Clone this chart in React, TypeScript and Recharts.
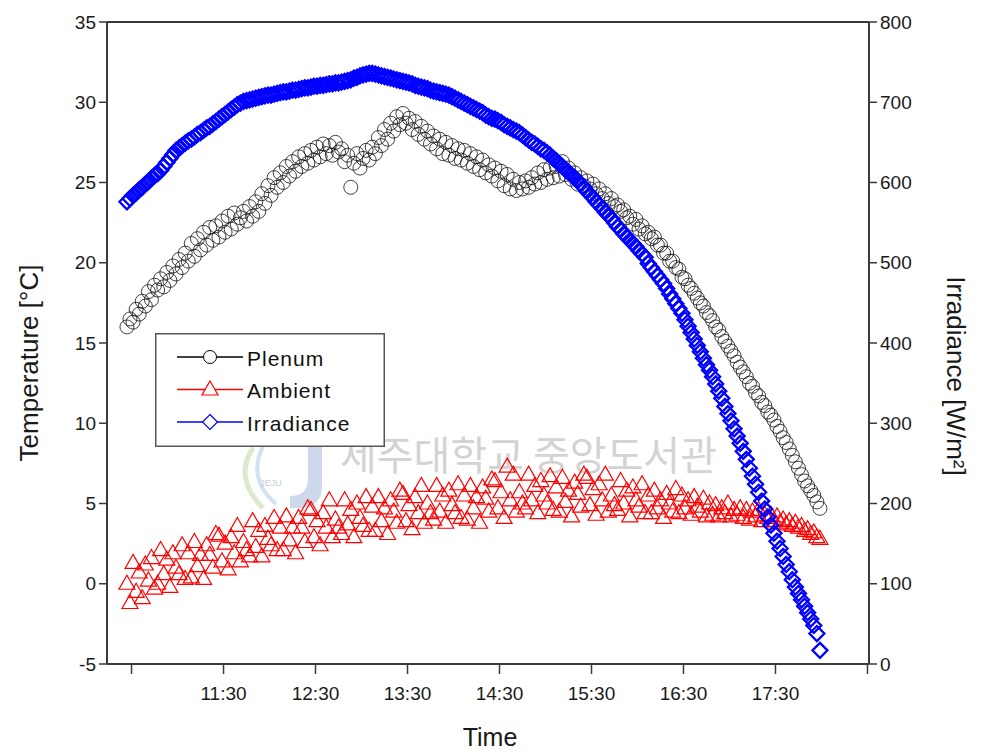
import React from 'react';
import { ComposedChart, Line, XAxis, YAxis, ReferenceLine, Legend, Customized } from 'recharts';

const FONT = 'Arial, "Liberation Sans", Helvetica, sans-serif';

// time of day in minutes since midnight (2-minute samples)
const TIMES = [
  627, 629, 631, 633, 635, 637, 639, 641, 643, 645,
  647, 649, 651, 653, 655, 657, 659, 661, 663, 665,
  667, 669, 671, 673, 675, 677, 679, 681, 683, 685,
  687, 689, 691, 693, 695, 697, 699, 701, 703, 705,
  707, 709, 711, 713, 715, 717, 719, 721, 723, 725,
  727, 729, 731, 733, 735, 737, 739, 741, 743, 745,
  747, 749, 751, 753, 755, 757, 759, 761, 763, 765,
  767, 769, 771, 773, 775, 777, 779, 781, 783, 785,
  787, 789, 791, 793, 795, 797, 799, 801, 803, 805,
  807, 809, 811, 813, 815, 817, 819, 821, 823, 825,
  827, 829, 831, 833, 835, 837, 839, 841, 843, 845,
  847, 849, 851, 853, 855, 857, 859, 861, 863, 865,
  867, 869, 871, 873, 875, 877, 879, 881, 883, 885,
  887, 889, 891, 893, 895, 897, 899, 901, 903, 905,
  907, 909, 911, 913, 915, 917, 919, 921, 923, 925,
  927, 929, 931, 933, 935, 937, 939, 941, 943, 945,
  947, 949, 951, 953, 955, 957, 959, 961, 963, 965,
  967, 969, 971, 973, 975, 977, 979, 981, 983, 985,
  987, 989, 991, 993, 995, 997, 999, 1001, 1003, 1005,
  1007, 1009, 1011, 1013, 1015, 1017, 1019, 1021, 1023, 1025,
  1027, 1029, 1031, 1033, 1035, 1037, 1039, 1041, 1043, 1045,
  1047, 1049, 1051, 1053, 1055, 1057, 1059, 1061, 1063, 1065,
  1067, 1069, 1071, 1073, 1075, 1077, 1079,
];

const PLENUM = [
  16.0, 16.5, 16.3, 17.1, 16.8, 17.6, 17.3, 18.2, 17.7, 18.6,
  18.3, 19.0, 18.5, 19.4, 18.9, 19.8, 19.3, 20.2, 19.7, 20.6,
  20.1, 21.2, 20.4, 21.5, 20.8, 21.9, 21.1, 22.2, 21.4, 22.3,
  21.6, 22.6, 21.9, 22.9, 22.1, 23.1, 22.4, 22.8, 23.2, 22.6,
  23.5, 22.9, 23.8, 23.2, 24.3, 23.7, 24.8, 24.2, 25.3, 24.7,
  25.6, 25.0, 26.0, 25.4, 26.3, 25.7, 26.6, 26.0, 26.8, 26.2,
  27.0, 26.4, 27.2, 26.6, 27.4, 26.8, 27.3, 26.7, 27.5, 26.9,
  27.1, 26.3, 26.7, 24.7, 26.2, 26.8, 25.9, 26.5, 27.0, 26.4,
  27.2, 26.8, 27.8, 27.3, 28.3, 27.7, 28.7, 28.2, 29.1, 28.6,
  29.3, 28.7, 29.0, 28.3, 28.8, 28.0, 28.5, 27.7, 28.2, 27.4,
  27.9, 27.1, 27.7, 26.8, 27.5, 26.7, 27.3, 26.5, 27.1, 26.4,
  27.0, 26.2, 26.8, 26.0, 26.6, 25.8, 26.4, 25.6, 26.1, 25.4,
  25.9, 25.1, 25.7, 24.8, 25.5, 24.6, 25.2, 24.5, 25.0, 24.6,
  25.1, 24.7, 25.3, 24.9, 25.6, 25.0, 25.8, 25.2, 25.9, 25.3,
  26.0, 25.4, 26.3, 25.5, 25.9, 25.2, 25.6, 24.9, 25.3, 24.8,
  25.1, 24.6, 24.9, 24.3, 24.6, 24.0, 24.3, 23.7, 24.0, 23.5,
  23.6, 23.2, 23.3, 22.8, 22.9, 22.4, 22.7, 22.1, 22.3, 21.8,
  21.9, 21.5, 21.6, 21.1, 21.1, 20.6, 20.6, 20.1, 20.1, 19.7,
  19.6, 19.1, 19.0, 18.6, 18.4, 18.1, 17.8, 17.5, 17.3, 16.9,
  16.7, 16.4, 16.0, 15.8, 15.4, 15.1, 14.8, 14.5, 14.2, 13.8,
  13.5, 13.2, 12.9, 12.5, 12.3, 11.9, 11.7, 11.3, 11.1, 10.7,
  10.5, 10.2, 9.8, 9.5, 9.1, 8.8, 8.4, 8.0, 7.6, 7.2,
  6.8, 6.4, 6.1, 5.8, 5.5, 5.1, 4.7,
];

const AMBIENT = [
  0.0, -1.2, 1.3, -0.5, 0.7, -0.9, 1.2, 0.2, 1.6, -0.3,
  0.0, 2.1, 0.6, 1.5, -0.2, 1.9, 1.0, 0.6, 2.4, 0.3,
  1.9, 0.4, 2.6, 1.1, 1.8, 0.3, 2.4, 1.8, 1.0, 3.1,
  3.0, 1.4, 2.5, 0.9, 2.9, 1.9, 3.6, 1.4, 2.6, 2.1,
  1.7, 3.9, 2.3, 3.3, 1.7, 3.6, 2.8, 2.4, 4.1, 2.1,
  3.5, 2.1, 4.2, 2.7, 3.5, 1.9, 4.1, 3.5, 2.6, 4.7,
  4.6, 2.9, 3.9, 2.4, 4.4, 3.5, 5.2, 2.9, 4.0, 3.5,
  3.1, 5.2, 3.7, 4.6, 2.9, 5.0, 4.1, 3.6, 5.4, 3.3,
  4.8, 3.3, 5.4, 3.9, 4.7, 3.1, 5.2, 4.5, 3.8, 5.8,
  5.6, 3.9, 4.9, 3.4, 5.4, 4.4, 6.1, 3.8, 5.0, 4.4,
  4.0, 6.1, 4.5, 5.5, 3.8, 5.8, 4.9, 4.4, 6.2, 4.1,
  5.5, 4.0, 6.1, 4.7, 5.4, 3.8, 6.0, 5.3, 4.5, 6.5,
  6.4, 4.7, 5.7, 4.1, 7.3, 5.2, 6.8, 4.5, 5.7, 5.0,
  4.7, 6.8, 5.2, 6.1, 4.4, 6.4, 5.5, 5.0, 6.7, 4.6,
  6.0, 4.5, 6.6, 5.1, 5.8, 4.2, 6.3, 5.6, 4.8, 6.8,
  6.6, 4.9, 5.9, 4.3, 6.2, 5.2, 6.8, 4.5, 5.5, 4.9,
  4.6, 6.4, 5.0, 5.8, 4.2, 6.0, 5.2, 4.8, 6.2, 4.4,
  5.5, 4.4, 5.8, 4.7, 5.2, 4.1, 5.6, 5.0, 4.5, 5.9,
  4.4, 5.5, 4.7, 5.2, 4.3, 5.4, 4.8, 4.5, 5.3, 4.2,
  5.0, 4.3, 4.9, 4.2, 4.7, 4.4, 5.0, 4.2, 4.6, 4.3,
  4.7, 4.1, 4.6, 4.0, 4.5, 4.2, 4.6, 3.9, 4.3, 4.1,
  4.3, 3.9, 4.2, 3.8, 4.0, 3.7, 3.9, 3.6, 3.8, 3.5,
  3.6, 3.3, 3.4, 3.1, 3.2, 2.9, 2.8,
];

const IRRADIANCE = [
  576, 580, 584, 587, 591, 594, 598, 601, 605, 609,
  611, 615, 620, 625, 630, 635, 640, 643, 646, 649,
  652, 654, 657, 660, 662, 665, 668, 670, 673, 676,
  679, 682, 685, 688, 691, 694, 697, 699, 701, 702,
  703, 704, 705, 706, 707, 708, 709, 709, 710, 711,
  712, 713, 713, 714, 715, 715, 716, 717, 718, 718,
  719, 720, 720, 721, 721, 722, 723, 723, 724, 724,
  725, 726, 727, 728, 730, 731, 733, 734, 735, 736,
  736, 735, 734, 733, 732, 731, 730, 729, 728, 727,
  726, 725, 724, 723, 721, 720, 719, 718, 717, 715,
  714, 713, 712, 711, 710, 709, 707, 705, 703, 701,
  699, 697, 695, 693, 691, 689, 687, 684, 682, 680,
  679, 677, 675, 672, 670, 668, 666, 664, 662, 659,
  656, 653, 650, 648, 645, 642, 640, 637, 634, 630,
  627, 623, 620, 616, 613, 609, 606, 602, 598, 594,
  589, 585, 581, 576, 572, 568, 563, 559, 555, 550,
  545, 541, 536, 532, 528, 524, 520, 515, 511, 507,
  499, 494, 489, 484, 479, 474, 468, 461, 455, 449,
  443, 437, 429, 421, 413, 405, 397, 389, 381, 373,
  366, 358, 349, 340, 331, 321, 312, 303, 293, 284,
  275, 265, 255, 244, 234, 224, 214, 203, 193, 183,
  173, 163, 153, 144, 134, 124, 115, 105, 96, 88,
  80, 72, 64, 56, 48, 38, 17,
];

const X_TICKS = [630, 690, 750, 810, 870, 930, 990, 1050, 1110];
const X_UNLABELED = [630, 1110];
const LEFT_TICKS = [-5, 0, 5, 10, 15, 20, 25, 30, 35];
const RIGHT_TICKS = [0, 100, 200, 300, 400, 500, 600, 700, 800];

const SERIES = [
  { key: 'plenum', name: 'Plenum', color: '#000000', shape: 'circle' },
  { key: 'ambient', name: 'Ambient', color: '#ff0000', shape: 'triangle' },
  { key: 'irr', name: 'Irradiance', color: '#0000ff', shape: 'diamond' },
];

const data = TIMES.map((t, i) => ({ t, plenum: PLENUM[i], ambient: AMBIENT[i], irr: IRRADIANCE[i] }));

const fmtTime = (v: number) => {
  if (X_UNLABELED.includes(v)) return '';
  const h = Math.floor(v / 60);
  const m = v % 60;
  return `${h}:${m < 10 ? '0' + m : m}`;
};

const AXIS = '#3a3a3a';
const TICK_STYLE = { fill: '#1a1a1a', fontSize: 19, fontFamily: FONT };

function markerPath(shape: string, cx: number, cy: number) {
  if (shape === 'triangle') return `M${cx},${cy - 8.5} L${cx + 8},${cy + 5.5} L${cx - 8},${cy + 5.5} Z`;
  return `M${cx},${cy - 7.5} L${cx + 7.5},${cy} L${cx},${cy + 7.5} L${cx - 7.5},${cy} Z`;
}

const makeDot = (shape: string, color: string, prefix: string) => (p: any) => {
  const { cx, cy, index } = p;
  if (cx == null || cy == null) return <g key={`${prefix}${index}`} />;
  if (shape === 'circle') {
    return <circle key={`${prefix}${index}`} cx={cx} cy={cy} r={7} fill="none" stroke={color} strokeWidth={1} strokeOpacity={0.8} />;
  }
  return (
    <path
      key={`${prefix}${index}`}
      d={markerPath(shape, cx, cy)}
      fill="none"
      stroke={color}
      strokeWidth={shape === 'diamond' ? 2.3 : 1.2}
    />
  );
};

const LegendBox = () => (
  <svg width={230} height={114} style={{ display: 'block' }}>
    <rect x={0.75} y={0.75} width={228.5} height={112.5} fill="#ffffff" stroke="#555" strokeWidth={1.5} />
    {SERIES.map((s, i) => {
      const y = 24 + i * 32.5;
      return (
        <g key={s.key}>
          <line x1={22} x2={88} y1={y} y2={y} stroke={s.color} strokeWidth={1.3} />
          {s.shape === 'circle' ? (
            <circle cx={55} cy={y} r={6.5} fill="#fff" stroke={s.color} strokeWidth={1} />
          ) : (
            <path d={markerPath(s.shape, 55, y)} fill="#fff" stroke={s.color} strokeWidth={1.2} />
          )}
          <text x={92} y={y + 1} dominantBaseline="central" fontSize={21} letterSpacing={1} fontFamily={FONT} fill="#111">
            {s.name}
          </text>
        </g>
      );
    })}
  </svg>
);

const Watermark = () => (
  <g opacity={0.5}>
    <path d="M300,424 L314,424 L314,478 Q314,500 290,500 L282,500 L282,488 Q300,488 300,470 Z" fill="#9fb6d8" />
    <path d="M245,440 Q225,470 255,500" fill="none" stroke="#b9d6a0" strokeWidth={5} />
    <path d="M256,436 Q238,470 268,496" fill="none" stroke="#a8c6e6" strokeWidth={4} />
    <text x={263} y={478} fontSize={9} fontFamily={FONT} fill="#8aa0c0" textAnchor="middle">JEJU</text>
    <text x={332} y={462} fontSize={40} fontFamily='"Noto Sans CJK KR", sans-serif' fill="#a8a8a8">
      제주대학교 중앙도서관
    </text>
  </g>
);

export default function App() {
  return (
    <div style={{ width: 967, height: 748, position: 'relative', background: '#fff' }}>
      <ComposedChart
        width={967}
        height={748}
        data={data}
        margin={{ top: 14, right: 46, bottom: 42, left: 39 }}
        style={{ fontFamily: FONT }}
      >
        <XAxis
          dataKey="t"
          type="number"
          domain={[614, 1111]}
          ticks={X_TICKS}
          tickFormatter={fmtTime}
          allowDataOverflow
          height={50}
          tickSize={10}
          tickMargin={13}
          stroke={AXIS}
          axisLine={{ stroke: AXIS, strokeWidth: 2 }}
          tickLine={{ stroke: AXIS, strokeWidth: 1.5 }}
          tick={TICK_STYLE}
          label={(p: any) => {
            const vb = p.viewBox || { x: 99, y: 656, width: 762, height: 50 };
            return (
              <text x={vb.x + vb.width / 2 + 2} y={vb.y + 82} textAnchor="middle" fontSize={25} fontFamily={FONT} fill="#1a1a1a">
                Time
              </text>
            );
          }}
        />
        <YAxis
          yAxisId="left"
          domain={[-5, 35]}
          ticks={LEFT_TICKS}
          allowDataOverflow
          width={60}
          tickSize={8}
          tickMargin={3}
          axisLine={{ stroke: AXIS, strokeWidth: 2 }}
          tickLine={{ stroke: AXIS, strokeWidth: 1.5 }}
          tick={TICK_STYLE}
          label={(p: any) => {
            const vb = p.viewBox || { x: 39, y: 14, width: 60, height: 642 };
            const cx = vb.x - 18;
            const cy = vb.y + vb.height / 2 + 20;
            return (
              <text x={cx} y={cy} transform={`rotate(-90 ${cx} ${cy})`} textAnchor="middle" dominantBaseline="central" fontSize={26} fontFamily={FONT} fill="#1a1a1a">
                Temperature [°C]
              </text>
            );
          }}
        />
        <YAxis
          yAxisId="right"
          orientation="right"
          domain={[0, 800]}
          ticks={RIGHT_TICKS}
          allowDataOverflow
          width={60}
          tickSize={8}
          tickMargin={3}
          axisLine={{ stroke: AXIS, strokeWidth: 2 }}
          tickLine={{ stroke: AXIS, strokeWidth: 1.5 }}
          tick={TICK_STYLE}
          label={(p: any) => {
            const vb = p.viewBox || { x: 861, y: 14, width: 60, height: 642 };
            const cx = vb.x + 87;
            const cy = vb.y + vb.height / 2 + 33;
            return (
              <text x={cx} y={cy} transform={`rotate(90 ${cx} ${cy})`} textAnchor="middle" dominantBaseline="central" fontSize={26} fontFamily={FONT} fill="#1a1a1a">
                Irradiance [W/m²]
              </text>
            );
          }}
        />
        <ReferenceLine yAxisId="left" y={35} stroke={AXIS} strokeWidth={2} />
        <Customized component={Watermark} />
        <Line
          yAxisId="left"
          dataKey="plenum"
          name="Plenum"
          stroke="none"
          dot={makeDot('circle', '#111111', 'pl')}
          activeDot={false}
          isAnimationActive={false}
        />
        <Line
          yAxisId="left"
          dataKey="ambient"
          name="Ambient"
          stroke="none"
          dot={makeDot('triangle', '#ff0000', 'am')}
          activeDot={false}
          isAnimationActive={false}
        />
        <Line
          yAxisId="right"
          dataKey="irr"
          name="Irradiance"
          stroke="none"
          dot={makeDot('diamond', '#0000ff', 'ir')}
          activeDot={false}
          isAnimationActive={false}
        />
        <Legend
          layout="horizontal"
          verticalAlign="middle"
          align="center"
          content={() => <LegendBox />}
          wrapperStyle={{ left: 147, top: 325, width: 230, height: 114 }}
        />
      </ComposedChart>
    </div>
  );
}
